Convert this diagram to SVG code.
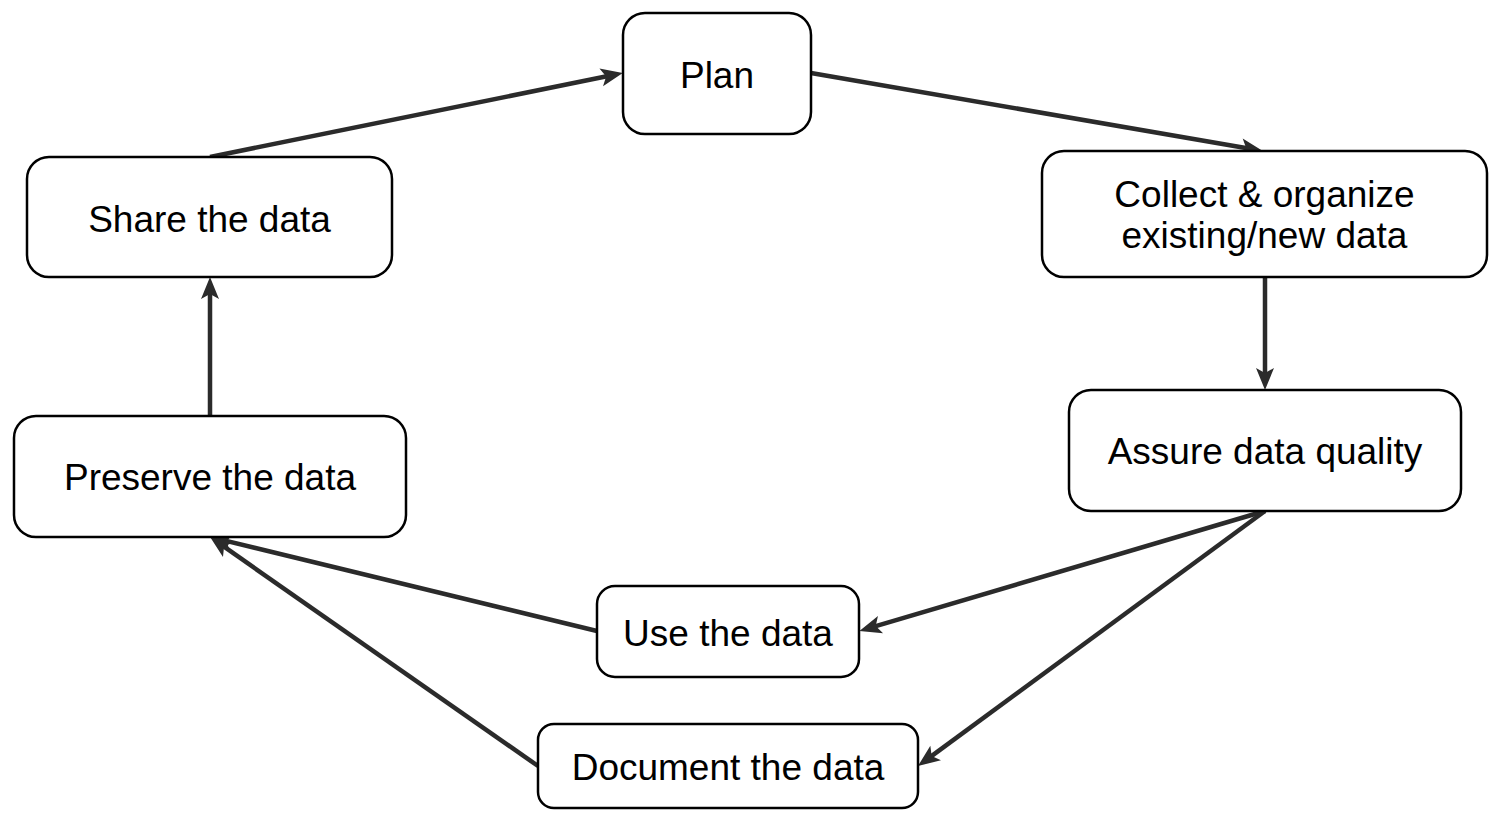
<svg xmlns="http://www.w3.org/2000/svg" width="1489" height="815" viewBox="0 0 1489 815">
<style>
.box{fill:#fff;stroke:#000;stroke-width:2.5}
.lbl{font-family:"Liberation Sans",Arial,sans-serif;font-size:37px;fill:#000;text-anchor:middle}
.con{stroke:#2b2b2b;stroke-width:4.5;fill:none;marker-end:url(#ah)}
</style>
<defs>
<marker id="ah" markerUnits="userSpaceOnUse" markerWidth="24" markerHeight="20" refX="12" refY="9" orient="auto" overflow="visible">
<path d="M0,0 L22,9 L0,18 L5,9 z" fill="#2b2b2b"/>
</marker>
</defs>
<rect width="1489" height="815" fill="#fff"/>
<g id="connectors">
<line class="con" x1="210" y1="157" x2="613" y2="75"/>
<line class="con" x1="811" y1="73" x2="1253" y2="149.3"/>
<line class="con" x1="1265" y1="277" x2="1265" y2="380"/>
<line class="con" x1="1265" y1="511" x2="869" y2="628.1"/>
<line class="con" x1="1265" y1="511" x2="926" y2="760.1"/>
<line class="con" x1="597" y1="631" x2="220" y2="539.4"/>
<line class="con" x1="538" y1="766" x2="218.3" y2="542.7"/>
<line class="con" x1="210" y1="416" x2="210" y2="287"/>
</g>
<g id="plan">
<rect class="box" x="623" y="13" width="188" height="121" rx="22"/>
<text class="lbl" x="717" y="88">Plan</text>
</g>
<g id="collect">
<rect class="box" x="1042" y="151" width="445" height="126" rx="22"/>
<text class="lbl" x="1264.5" y="207">Collect &amp; organize</text>
<text class="lbl" x="1264.5" y="248">existing/new data</text>
</g>
<g id="assure">
<rect class="box" x="1069" y="390" width="392" height="121" rx="22"/>
<text class="lbl" x="1265" y="464">Assure data quality</text>
</g>
<g id="use">
<rect class="box" x="597" y="586" width="262" height="91" rx="18"/>
<text class="lbl" x="728" y="646">Use the data</text>
</g>
<g id="document">
<rect class="box" x="538" y="724" width="380" height="84" rx="16"/>
<text class="lbl" x="728" y="780">Document the data</text>
</g>
<g id="preserve">
<rect class="box" x="14" y="416" width="392" height="121" rx="22"/>
<text class="lbl" x="210" y="490">Preserve the data</text>
</g>
<g id="share">
<rect class="box" x="27" y="157" width="365" height="120" rx="22"/>
<text class="lbl" x="209.5" y="232">Share the data</text>
</g>
</svg>
